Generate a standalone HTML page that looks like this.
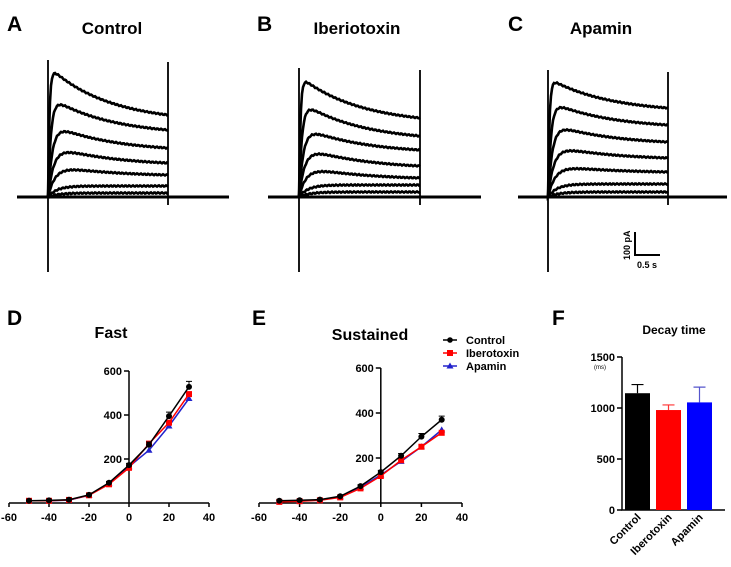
<!DOCTYPE html>
<html><head><meta charset="utf-8"><style>
html,body{margin:0;padding:0;background:#fff;}
svg{display:block;font-family:"Liberation Sans",Arial,sans-serif;}
.t{font-weight:bold;font-size:11px;}
</style></head><body>
<svg id="fig" width="731" height="567" viewBox="0 0 731 567">
<g id="traces"></g>
<g font-weight="bold">
<text x="7" y="31" font-size="21">A</text>
<text x="257" y="31" font-size="21">B</text>
<text x="508" y="31" font-size="21">C</text>
<text x="7" y="325" font-size="21">D</text>
<text x="252" y="325" font-size="21">E</text>
<text x="552" y="325" font-size="21">F</text>
<text x="112" y="34" font-size="17" text-anchor="middle">Control</text>
<text x="357" y="34" font-size="17" text-anchor="middle">Iberiotoxin</text>
<text x="601" y="34" font-size="17" text-anchor="middle">Apamin</text>
<text x="111" y="338" font-size="16" text-anchor="middle">Fast</text>
<text x="370" y="340" font-size="16" text-anchor="middle">Sustained</text>
<text x="674" y="334" font-size="12" text-anchor="middle">Decay time</text>
</g>
<g font-weight="bold">
<path d="M635,232 V255 H660" fill="none" stroke="#000" stroke-width="2"/>
<text x="0" y="0" font-size="9" transform="translate(630,260) rotate(-90)">100 pA</text>
<text x="637" y="268" font-size="9">0.5 s</text>
</g>
<g id="chartD"></g>
<g id="chartE"></g>
<g id="chartF"></g>
<g class="t">
<g><line x1="443" y1="340" x2="457" y2="340" stroke="#000" stroke-width="1.5"/><circle cx="450" cy="340" r="2.8"/><text x="466" y="344">Control</text></g>
<g><line x1="443" y1="353" x2="457" y2="353" stroke="#f00" stroke-width="1.5"/><rect x="447" y="350" width="6" height="6" fill="#f00"/><text x="466" y="357">Iberotoxin</text></g>
<g><line x1="443" y1="366" x2="457" y2="366" stroke="#22c" stroke-width="1.5"/><path d="M450,362.5 L453.5,368.5 L446.5,368.5Z" fill="#22c"/><text x="466" y="370">Apamin</text></g>
</g>
</svg>
<script>
var voltages=[-50,-40,-30,-20,-10,0,10,20,30];
var fastControl=[10,12,15,37,92,172,265,395,528];
var fastIbero=[10,10,14,35,85,160,270,365,495];
var fastApamin=[10,10,13,35,88,165,240,350,475];
var fastControlErr=[3,3,3,4,6,8,12,18,25];
var sustControl=[10,12,15,30,75,137,210,295,370];
var sustIbero=[5,8,12,25,65,120,190,250,312];
var sustApamin=[8,10,13,28,70,125,185,250,325];
var sustControlErr=[3,3,3,4,6,8,10,14,16];
var xTicks=[-60,-40,-20,0,20,40];
var yTicks=[200,400,600];
var decayGroups=["Control","Iberotoxin","Apamin"];
var decayMeans=[1145,980,1055];
var decayErr=[85,50,150];
var decayTicks=[0,500,1000,1500];

var NS="http://www.w3.org/2000/svg";
function mk(p,tag,at){var e=document.createElementNS(NS,tag);for(var k in at)e.setAttribute(k,at[k]);p.appendChild(e);return e;}

function drawTraces(g,x0,x1,on,off,base,starts,ends,peak,name){
  var bl=mk(g,'path',{d:'M'+x0+','+base+' H'+x1,stroke:'#000','stroke-width':3,fill:'none'});
  
  
  var sp=mk(g,'path',{d:'M'+on+','+base+' V272 M'+on+','+base+' V'+(peak-2)+' M'+off+','+peak+' V205',stroke:'#000','stroke-width':1.8,fill:'none'});
  
  
  for(var i=0;i<starts.length;i++){
    var d='M'+on+','+base;var s=starts[i],e=ends[i];
    for(var x=on;x<=off;x+=1){
      var t=(x-on)/(off-on);
      var rise=1-Math.exp(-(x-on)/(1.5+i*1.5));
      var lvl=s+(e-s)*(1-Math.exp(-t*2))/(1-Math.exp(-2));
      var y=base+(lvl-base)*rise+Math.sin(x*1.7+i)*0.6;
      d+=' L'+x+','+y.toFixed(1);
    }
    var p=mk(g,'path',{d:d,stroke:'#000','stroke-width':2.6,fill:'none'});
    
    
  }
}
var tr=document.getElementById('traces');
drawTraces(tr,17,229,48,168,197,[66,96,123,145,165,186,193],[115,130,148,163,175,186,193],62,'control-traces');
drawTraces(tr,268,481,299,420,197,[76,101,126,146,166,185,192],[118,136,150,166,178,185,192],70,'iberiotoxin-traces');
drawTraces(tr,518,727,548,668,197,[78,101,123,145,165,184,192],[108,125,142,158,172,184,192],72,'apamin-traces');

function ivChart(g,left,right,top,bottom,series,errs,nm){
  var xs=function(v){return left+(v+60)/100*(right-left);};
  var ys=function(v){return bottom-v/600*(bottom-top);};
  var ax=mk(g,'path',{d:'M'+left+','+bottom+' H'+right+' M'+xs(0)+','+bottom+' V'+top,stroke:'#000','stroke-width':1.5,fill:'none'});
  
  
  xTicks.forEach(function(v){
    mk(g,'line',{x1:xs(v),x2:xs(v),y1:bottom,y2:bottom+4,stroke:'#000','stroke-width':1.5});
    var t=mk(g,'text',{x:xs(v),y:bottom+18,'text-anchor':'middle','class':'t'});t.textContent=v;
    
    
  });
  yTicks.forEach(function(v){
    mk(g,'line',{x1:xs(0)-5,x2:xs(0),y1:ys(v),y2:ys(v),stroke:'#000','stroke-width':1.5});
    var t=mk(g,'text',{x:xs(0)-7,y:ys(v)+4,'text-anchor':'end','class':'t'});t.textContent=v;
    
    
  });
  var cols=['#000','#f00','#22c'];
  [2,1,0].forEach(function(k){
    var vals=series[k];
    var d=vals.map(function(v,i){return (i?'L':'M')+xs(voltages[i])+','+ys(v);}).join(' ');
    var l=mk(g,'path',{d:d,stroke:cols[k],'stroke-width':1.5,fill:'none'});
    
    
    vals.forEach(function(v,i){
      var cx=xs(voltages[i]),cy=ys(v),m;
      if(k===0){
        var e=errs[i];
        mk(g,'path',{d:'M'+cx+','+ys(v)+' V'+ys(v+e)+' M'+(cx-3)+','+ys(v+e)+' H'+(cx+3),stroke:'#000','stroke-width':1});
        m=mk(g,'circle',{cx:cx,cy:cy,r:3,fill:'#000'});
      }else if(k===1){m=mk(g,'rect',{x:cx-3,y:cy-3,width:6,height:6,fill:'#f00'});}
      else{m=mk(g,'path',{d:'M'+cx+','+(cy-3.5)+' L'+(cx+3.5)+','+(cy+2.5)+' L'+(cx-3.5)+','+(cy+2.5)+'Z',fill:'#22c'});}
      
      
    });
  });
}
ivChart(document.getElementById('chartD'),9,209,371,503,[fastControl,fastIbero,fastApamin],fastControlErr,'fast');
ivChart(document.getElementById('chartE'),259,462,368,503,[sustControl,sustIbero,sustApamin],sustControlErr,'sustained');

(function(){
  var g=document.getElementById('chartF');
  var left=622,right=725,top=357,bottom=510;
  var ys=function(v){return bottom-v/1500*(bottom-top);};
  var ax=mk(g,'path',{d:'M'+left+','+top+' V'+bottom+' H'+right,stroke:'#000','stroke-width':1.5,fill:'none'});
  
  
  decayTicks.forEach(function(v){
    mk(g,'line',{x1:left-5,x2:left,y1:ys(v),y2:ys(v),stroke:'#000','stroke-width':1.5});
    var t=mk(g,'text',{x:left-7,y:ys(v)+4,'text-anchor':'end','class':'t'});t.textContent=v;
    
    
  });
  var u=mk(g,'text',{x:left-22,y:ys(1500)+12,'text-anchor':'middle','font-size':6});u.textContent='(ms)';
  
  
  var cols=['#000','#f00','#00f'],ecol=['#000','#f33','#55c'];
  var bw=25,step=31,x0=625;
  decayMeans.forEach(function(v,i){
    var bx=x0+i*step,cx=bx+bw/2;
    mk(g,'path',{d:'M'+cx+','+ys(v)+' V'+ys(v+decayErr[i])+' M'+(cx-6)+','+ys(v+decayErr[i])+' H'+(cx+6),stroke:ecol[i],'stroke-width':1.2});
    var r=mk(g,'rect',{x:bx,y:ys(v),width:bw,height:bottom-ys(v),fill:cols[i]});
    
    
    var t=mk(g,'text',{x:0,y:0,'text-anchor':'end','class':'t',transform:'translate('+(cx+4)+','+(bottom+8)+') rotate(-45)'});
    t.textContent=decayGroups[i];
    
    
  });
})();
</script>
</body></html>
